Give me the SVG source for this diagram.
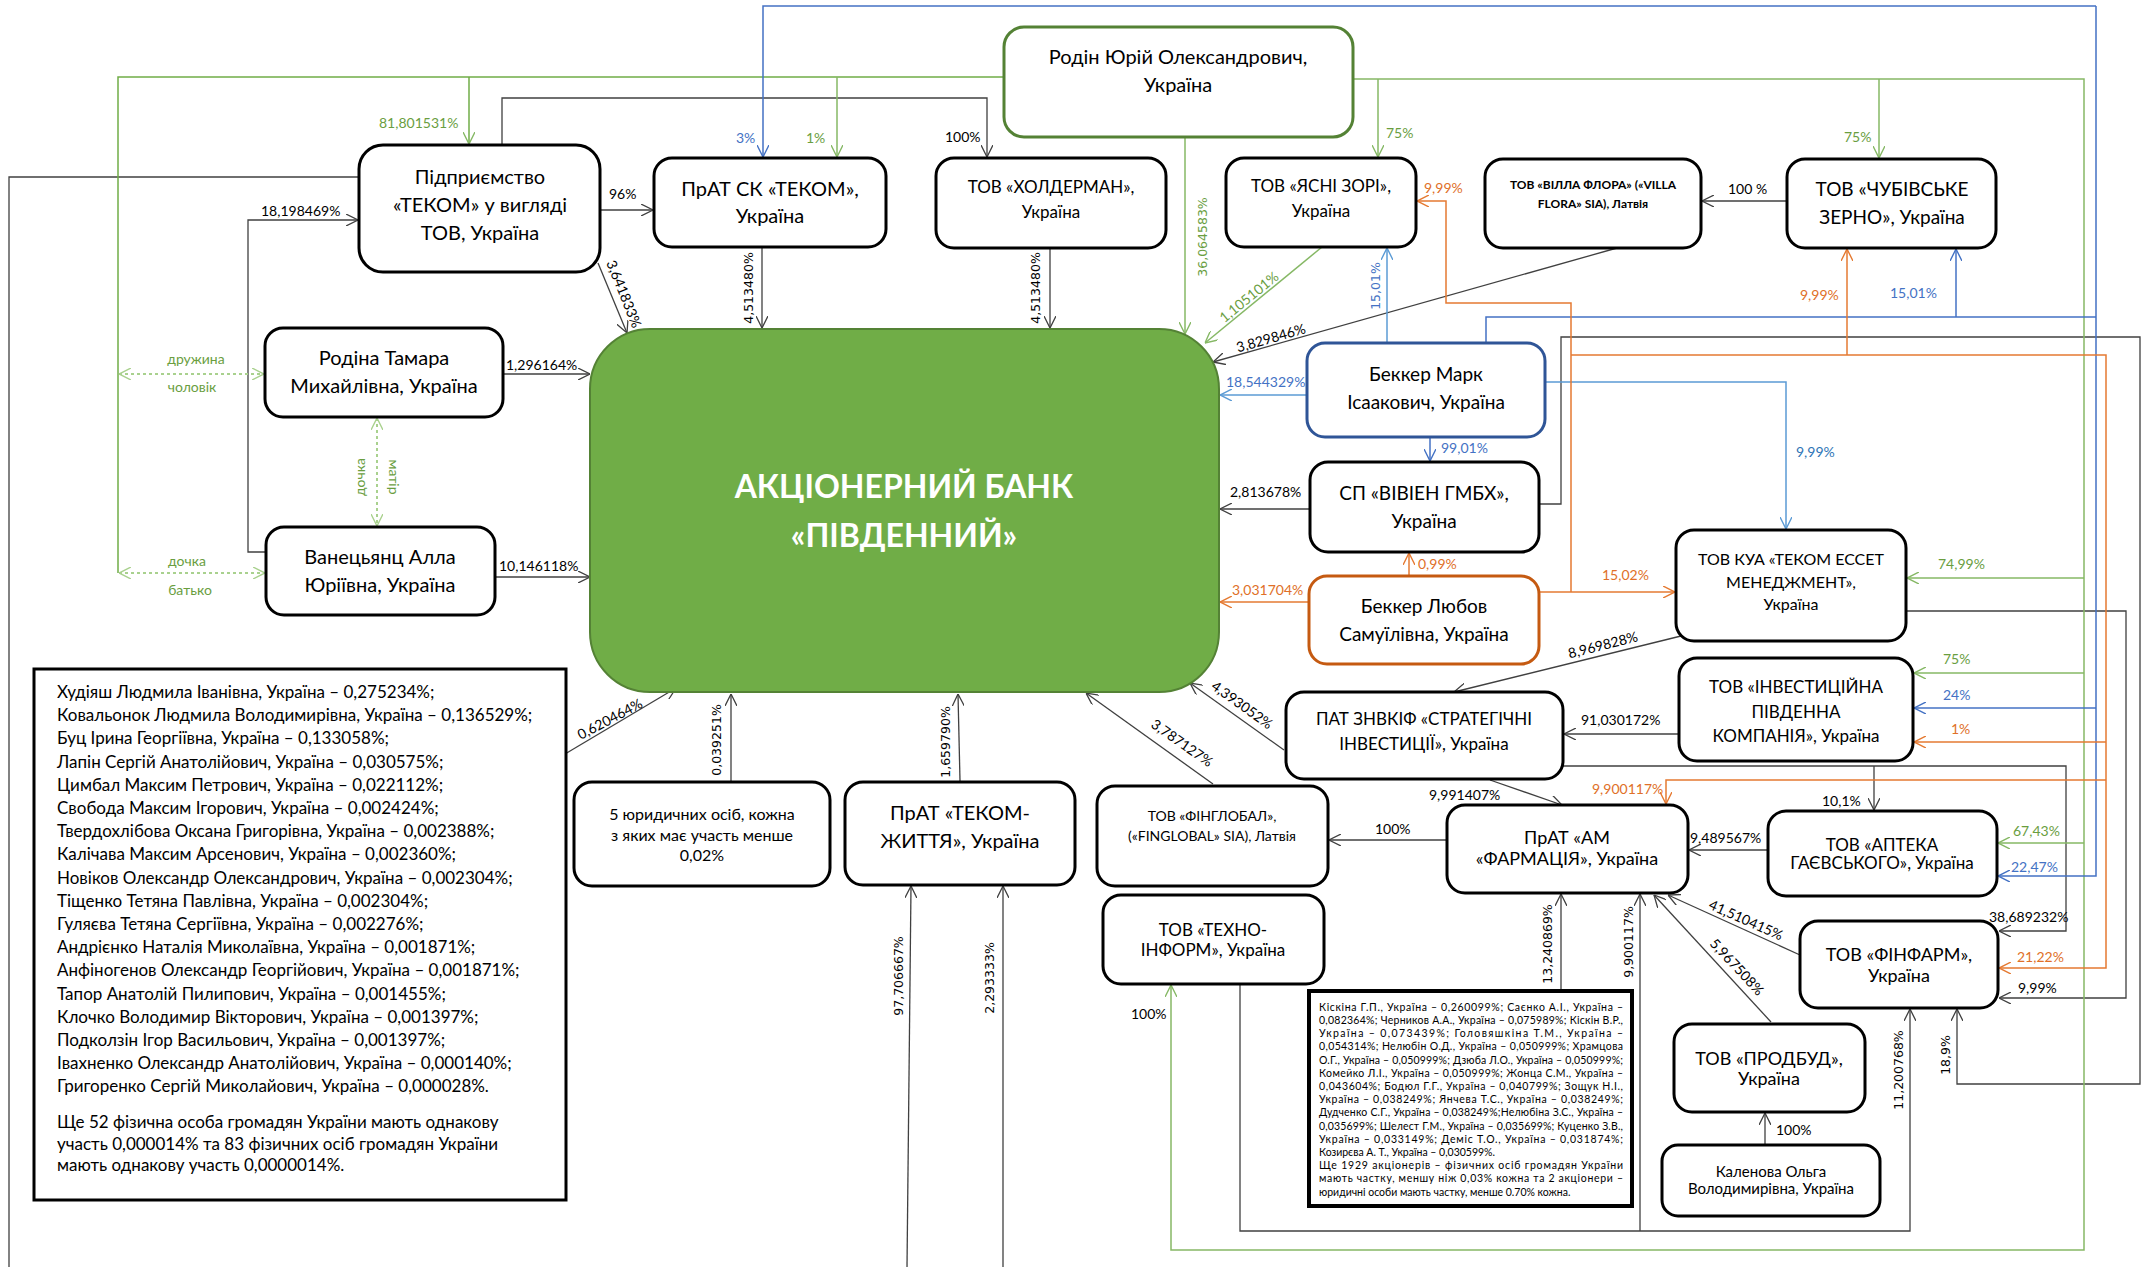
<svg xmlns="http://www.w3.org/2000/svg" width="2147" height="1267" viewBox="0 0 2147 1267">
<style>
.bg{fill:#fff}
.n rect{fill:#fff;stroke:#000;stroke-width:3}
.t{font-family:Lato,"Liberation Sans",sans-serif;text-anchor:middle;fill:#000}
.c{fill:none;stroke:#404040;stroke-width:1.3}
.cg{fill:none;stroke:#86B865;stroke-width:1.5}
.cgd{fill:none;stroke:#70AD47;stroke-width:1.5}
.cb{fill:none;stroke:#4472C4;stroke-width:1.5}
.clb{fill:none;stroke:#5B9BD5;stroke-width:1.5}
.co{fill:none;stroke:#E57A32;stroke-width:1.5}
.dot{fill:none;stroke:#A9D18E;stroke-width:2;stroke-dasharray:3 3}
.lb{font-family:Lato,"Liberation Sans",sans-serif;font-size:14px;fill:#000}
.lv{font-family:"DejaVu Sans",sans-serif;font-size:12.5px;fill:#000}
.gl{fill:#6A9E3F}
.bl{fill:#4472C4}
.lbl{fill:#2E75B6}
.ol{fill:#E07028}
.rel{font-family:Lato,"Liberation Sans",sans-serif;font-size:14px;fill:#6A9E3F;text-anchor:middle}
.tx{font-family:Lato,"Liberation Sans",sans-serif;font-size:17px;fill:#000}
.sx{font-family:Lato,"Liberation Sans",sans-serif;font-size:10.5px;fill:#000}
</style>
<defs>
<marker id="ak" viewBox="0 0 12 12" refX="12" refY="6" markerWidth="12" markerHeight="12" markerUnits="userSpaceOnUse" orient="auto"><path d="M0,0 L12,6 L0,12" fill="none" stroke="#404040" stroke-width="1.3"/></marker>
<marker id="ag" viewBox="0 0 12 12" refX="12" refY="6" markerWidth="12" markerHeight="12" markerUnits="userSpaceOnUse" orient="auto"><path d="M0,0 L12,6 L0,12" fill="none" stroke="#86B865" stroke-width="1.4"/></marker>
<marker id="ab" viewBox="0 0 12 12" refX="12" refY="6" markerWidth="12" markerHeight="12" markerUnits="userSpaceOnUse" orient="auto"><path d="M0,0 L12,6 L0,12" fill="none" stroke="#4472C4" stroke-width="1.4"/></marker>
<marker id="alb" viewBox="0 0 12 12" refX="12" refY="6" markerWidth="12" markerHeight="12" markerUnits="userSpaceOnUse" orient="auto"><path d="M0,0 L12,6 L0,12" fill="none" stroke="#5B9BD5" stroke-width="1.4"/></marker>
<marker id="ao" viewBox="0 0 12 12" refX="12" refY="6" markerWidth="12" markerHeight="12" markerUnits="userSpaceOnUse" orient="auto"><path d="M0,0 L12,6 L0,12" fill="none" stroke="#E57A32" stroke-width="1.4"/></marker>
<marker id="ad" viewBox="0 0 12 12" refX="12" refY="6" markerWidth="12" markerHeight="12" markerUnits="userSpaceOnUse" orient="auto-start-reverse"><path d="M0,0 L12,6 L0,12" fill="none" stroke="#A9D18E" stroke-width="1.4"/></marker>
</defs>
<rect class="bg" x="0" y="0" width="2147" height="1267"/>

<g id="connectors">
<!-- black -->
<path class="c" d="M600,210 H653" marker-end="url(#ak)"/>
<path class="c" d="M502,145 V98 H987 V157" marker-end="url(#ak)"/>
<path class="c" d="M598,263 L627,333" marker-end="url(#ak)"/>
<path class="c" d="M359,177 H9 V1267"/>
<path class="c" d="M266,552 H248 V220 H358" marker-end="url(#ak)"/>
<path class="c" d="M503,374 H590" marker-end="url(#ak)"/>
<path class="c" d="M495,577 H590" marker-end="url(#ak)"/>
<path class="c" d="M762,247 V328" marker-end="url(#ak)"/>
<path class="c" d="M1050,248 V328" marker-end="url(#ak)"/>
<path class="c" d="M1617,248 L1213,362" marker-end="url(#ak)"/>
<path class="c" d="M1787,201 H1702" marker-end="url(#ak)"/>
<path class="c" d="M1310,509 H1220" marker-end="url(#ak)"/>
<path class="c" d="M1539,504 H1561 V337 H2140 V1084 H1957 V1009" marker-end="url(#ak)"/>
<path class="c" d="M1906,611 H2126 V998 H1999" marker-end="url(#ak)"/>
<path class="c" d="M1681,636 L1454,692" marker-end="url(#ak)"/>
<path class="c" d="M1679,734 H1564" marker-end="url(#ak)"/>
<path class="c" d="M1284,750 L1190,683" marker-end="url(#ak)"/>
<path class="c" d="M1563,766 H2066 V931 H1999" marker-end="url(#ak)"/>
<path class="c" d="M1874,766 V810" marker-end="url(#ak)"/>
<path class="c" d="M1490,780 L1562,805" marker-end="url(#ak)"/>
<path class="c" d="M1447,840 H1329" marker-end="url(#ak)"/>
<path class="c" d="M1213,784 L1086,693" marker-end="url(#ak)"/>
<path class="c" d="M1768,850 H1689" marker-end="url(#ak)"/>
<path class="c" d="M1800,955 L1668,895" marker-end="url(#ak)"/>
<path class="c" d="M1771,1022 L1654,895" marker-end="url(#ak)"/>
<path class="c" d="M1561,990 V894" marker-end="url(#ak)"/>
<path class="c" d="M1240,984 V1231 H1910 V1009" marker-end="url(#ak)"/>
<path class="c" d="M1640,1231 V894" marker-end="url(#ak)"/>
<path class="c" d="M1765,1145 V1113" marker-end="url(#ak)"/>
<path class="c" d="M731,781 V694" marker-end="url(#ak)"/>
<path class="c" d="M960,781 L958,694" marker-end="url(#ak)"/>
<path class="c" d="M907,1267 L911,886" marker-end="url(#ak)"/>
<path class="c" d="M1003,1267 V886" marker-end="url(#ak)"/>
<path class="c" d="M565,754 L676,688" marker-end="url(#ak)"/>
<!-- green -->
<path class="cgd" d="M1004,77 H118 V573"/>
<path class="cgd" d="M469,77 V144" marker-end="url(#ag)"/>
<path class="cg" d="M837,77 V157" marker-end="url(#ag)"/>
<path class="cg" d="M1353,79 H2084 V1250 H1171 V985" marker-end="url(#ag)"/>
<path class="cg" d="M1378,79 V157" marker-end="url(#ag)"/>
<path class="cg" d="M1879,79 V158" marker-end="url(#ag)"/>
<path class="cg" d="M2084,578 H1907" marker-end="url(#ag)"/>
<path class="cg" d="M2084,673 H1914" marker-end="url(#ag)"/>
<path class="cg" d="M2084,843 H1998" marker-end="url(#ag)"/>
<path class="cg" d="M1185,137 V334" marker-end="url(#ag)"/>
<path class="cg" d="M1322,247 L1205,343" marker-end="url(#ag)"/>
<path class="dot" d="M119,374 H264" marker-start="url(#ad)" marker-end="url(#ad)"/>
<path class="dot" d="M119,573 H265" marker-start="url(#ad)" marker-end="url(#ad)"/>
<path class="dot" d="M377,418 V526" marker-start="url(#ad)" marker-end="url(#ad)"/>
<!-- blue -->
<path class="cb" d="M1486,343 V317 H2096"/>
<path class="cb" d="M2096,6 V876 H1998" marker-end="url(#ab)"/>
<path class="cb" d="M2096,6 H763 V157" marker-end="url(#ab)"/>
<path class="cb" d="M1956,317 V249" marker-end="url(#ab)"/>
<path class="cb" d="M2096,708 H1914" marker-end="url(#ab)"/>
<path class="clb" d="M1387,343 V248" marker-end="url(#alb)"/>
<path class="clb" d="M1307,395 H1220" marker-end="url(#alb)"/>
<path class="cb" d="M1430,437 V461" marker-end="url(#ab)"/>
<path class="clb" d="M1545,382 H1786 V529" marker-end="url(#alb)"/>
<!-- orange -->
<path class="co" d="M1539,592 H1675" marker-end="url(#ao)"/>
<path class="co" d="M1571,592 V303 H1446 V201 H1417" marker-end="url(#ao)"/>
<path class="co" d="M1571,355 H2106 V968 H1999" marker-end="url(#ao)"/>
<path class="co" d="M1847,355 V249" marker-end="url(#ao)"/>
<path class="co" d="M2106,742 H1914" marker-end="url(#ao)"/>
<path class="co" d="M2106,780 H1666 V804" marker-end="url(#ao)"/>
<path class="co" d="M1309,602 H1220" marker-end="url(#ao)"/>
<path class="co" d="M1409,576 V553" marker-end="url(#ao)"/>

<!-- labels -->
<text class="lb" x="609" y="199">96%</text>
<text class="lb" x="945" y="142">100%</text>
<text class="lb" x="261" y="216">18,198469%</text>
<text class="lb" x="506" y="370">1,296164%</text>
<text class="lb" x="499" y="571">10,146118%</text>
<text class="lb" x="1728" y="194">100 %</text>
<text class="lb" x="1230" y="497">2,813678%</text>
<text class="lb" x="1581" y="725">91,030172%</text>
<text class="lb" x="1429" y="800">9,991407%</text>
<text class="lb" x="1375" y="834">100%</text>
<text class="lb" x="1690" y="843">9,489567%</text>
<text class="lb" x="1822" y="806">10,1%</text>
<text class="lb" x="1989" y="922">38,689232%</text>
<text class="lb" x="2018" y="993">9,99%</text>
<text class="lb" x="1776" y="1135">100%</text>
<text class="lb" x="1131" y="1019">100%</text>
<text class="lb gl" x="379" y="128">81,801531%</text>
<text class="lb gl" x="806" y="143">1%</text>
<text class="lb gl" x="1386" y="138">75%</text>
<text class="lb gl" x="1844" y="142">75%</text>
<text class="lb gl" x="1938" y="569">74,99%</text>
<text class="lb gl" x="1943" y="664">75%</text>
<text class="lb gl" x="2013" y="836">67,43%</text>
<text class="lb bl" x="736" y="143">3%</text>
<text class="lb bl" x="1890" y="298">15,01%</text>
<text class="lb bl" x="1226" y="387">18,544329%</text>
<text class="lb bl" x="1441" y="453">99,01%</text>
<text class="lb lbl" x="1796" y="457">9,99%</text>
<text class="lb bl" x="1943" y="700">24%</text>
<text class="lb bl" x="2011" y="872">22,47%</text>
<text class="lb ol" x="1424" y="193">9,99%</text>
<text class="lb ol" x="1800" y="300">9,99%</text>
<text class="lb ol" x="1418" y="569">0,99%</text>
<text class="lb ol" x="1232" y="595">3,031704%</text>
<text class="lb ol" x="1602" y="580">15,02%</text>
<text class="lb ol" x="1951" y="734">1%</text>
<text class="lb ol" x="1592" y="794">9,900117%</text>
<text class="lb ol" x="2017" y="962">21,22%</text>
<text class="rel" x="196" y="364">дружина</text>
<text class="rel" x="192" y="392">чоловік</text>
<text class="rel" x="187" y="566">дочка</text>
<text class="rel" x="190" y="595">батько</text>
<text class="rel" transform="translate(360,477) rotate(-90)" dy="0.35em">дочка</text>
<text class="rel" transform="translate(394,477) rotate(90)" dy="0.35em">матір</text>
<!-- vertical labels -->
<text class="lv" text-anchor="middle" dy="0.35em" transform="translate(749,288) rotate(-90)">4,513480%</text>
<text class="lv" text-anchor="middle" dy="0.35em" transform="translate(1036,288) rotate(-90)">4,513480%</text>
<text class="lv gl" text-anchor="middle" dy="0.35em" transform="translate(1203,237) rotate(-90)">36,064583%</text>
<text class="lv bl" text-anchor="middle" dy="0.35em" transform="translate(1376,286) rotate(-90)">15,01%</text>
<text class="lv" text-anchor="middle" dy="0.35em" transform="translate(717,740) rotate(-90)">0,039251%</text>
<text class="lv" text-anchor="middle" dy="0.35em" transform="translate(946,742) rotate(-90)">1,659790%</text>
<text class="lv" text-anchor="middle" dy="0.35em" transform="translate(899,976) rotate(-90)">97,706667%</text>
<text class="lv" text-anchor="middle" dy="0.35em" transform="translate(990,978) rotate(-90)">2,293333%</text>
<text class="lv" text-anchor="middle" dy="0.35em" transform="translate(1548,944) rotate(-90)">13,240869%</text>
<text class="lv" text-anchor="middle" dy="0.35em" transform="translate(1629,942) rotate(-90)">9,900117%</text>
<text class="lv" text-anchor="middle" dy="0.35em" transform="translate(1899,1070) rotate(-90)">11,200768%</text>
<text class="lv" text-anchor="middle" dy="0.35em" transform="translate(1946,1055) rotate(-90)">18,9%</text>
<!-- diagonal labels -->
<text class="lb" text-anchor="middle" dy="0.35em" transform="translate(624,294) rotate(68)">3,641833%</text>
<text class="lb gl" text-anchor="middle" dy="0.35em" transform="translate(1249,297) rotate(-39)">1,105101%</text>
<text class="lb" text-anchor="middle" dy="0.35em" transform="translate(1271,338) rotate(-16)">3,829846%</text>
<text class="lb" text-anchor="middle" dy="0.35em" transform="translate(1603,645) rotate(-14)">8,969828%</text>
<text class="lb" text-anchor="middle" dy="0.35em" transform="translate(1242,705) rotate(35.5)">4,393052%</text>
<text class="lb" text-anchor="middle" dy="0.35em" transform="translate(1182,743) rotate(35)">3,787127%</text>
<text class="lb" text-anchor="middle" dy="0.35em" transform="translate(610,719) rotate(-28)">0,620464%</text>
<text class="lb" text-anchor="middle" dy="0.35em" transform="translate(1746,920) rotate(24)">41,510415%</text>
<text class="lb" text-anchor="middle" dy="0.35em" transform="translate(1737,967) rotate(47)">5,967508%</text>
</g>

<g id="bank">
<rect x="590" y="329" width="629" height="363" rx="60" fill="#70AD47" stroke="#548235" stroke-width="2"/>
<text class="t" x="904" y="498" font-size="32" font-weight="bold" style="fill:#fff">АКЦІОНЕРНИЙ БАНК</text>
<text class="t" x="904" y="547" font-size="32" font-weight="bold" style="fill:#fff">«ПІВДЕННИЙ»</text>
</g>
<g id="rodin" class="n"><rect x="1004" y="27" width="349" height="110" rx="20" style="stroke:#548235"/>
<text class="t" x="1178" y="64" font-size="20">Родін Юрій Олександрович,</text><text class="t" x="1178" y="92" font-size="20">Україна</text></g>
<g id="tekom" class="n"><rect x="359" y="145" width="241" height="127" rx="24"/>
<text class="t" x="480" y="184" font-size="20">Підприємство</text><text class="t" x="480" y="212" font-size="20">«ТЕКОМ» у вигляді</text><text class="t" x="480" y="240" font-size="20">ТОВ, Україна</text></g>
<g id="prat-sk" class="n"><rect x="654" y="158" width="232" height="89" rx="18"/>
<text class="t" x="770" y="196" font-size="20">ПрАТ СК «ТЕКОМ»,</text><text class="t" x="770" y="223" font-size="20">Україна</text></g>
<g id="holderman" class="n"><rect x="936" y="158" width="230" height="90" rx="18"/>
<text class="t" x="1051" y="193" font-size="17">ТОВ «ХОЛДЕРМАН»,</text><text class="t" x="1051" y="218" font-size="17">Україна</text></g>
<g id="yasni" class="n"><rect x="1226" y="158" width="190" height="89" rx="18"/>
<text class="t" x="1321" y="192" font-size="17">ТОВ «ЯСНІ ЗОРІ»,</text><text class="t" x="1321" y="217" font-size="17">Україна</text></g>
<g id="villa" class="n"><rect x="1485" y="159" width="216" height="89" rx="18"/>
<text class="t" x="1593" y="189" font-size="12" font-weight="bold">ТОВ «ВІЛЛА ФЛОРА» («VILLA</text><text class="t" x="1593" y="208" font-size="12" font-weight="bold">FLORA» SIA), Латвія</text></g>
<g id="chubivske" class="n"><rect x="1787" y="159" width="209" height="89" rx="18"/>
<text class="t" x="1892" y="196" font-size="19">ТОВ «ЧУБІВСЬКЕ</text><text class="t" x="1892" y="224" font-size="19">ЗЕРНО», Україна</text></g>
<g id="rodina" class="n"><rect x="265" y="328" width="238" height="89" rx="18"/>
<text class="t" x="384" y="365" font-size="20">Родіна Тамара</text><text class="t" x="384" y="393" font-size="20">Михайлівна, Україна</text></g>
<g id="vanetsyants" class="n"><rect x="266" y="527" width="229" height="88" rx="18"/>
<text class="t" x="380" y="564" font-size="20">Ванецьянц Алла</text><text class="t" x="380" y="592" font-size="20">Юріївна, Україна</text></g>
<g id="bekker-mark" class="n"><rect x="1307" y="343" width="238" height="94" rx="18" style="stroke:#2F5597"/>
<text class="t" x="1426" y="381" font-size="19">Беккер Марк</text><text class="t" x="1426" y="409" font-size="19">Ісаакович, Україна</text></g>
<g id="vivien" class="n"><rect x="1310" y="462" width="229" height="90" rx="18"/>
<text class="t" x="1424" y="500" font-size="19">СП «ВІВІЕН ГМБХ»,</text><text class="t" x="1424" y="528" font-size="19">Україна</text></g>
<g id="bekker-lyubov" class="n"><rect x="1309" y="576" width="230" height="88" rx="18" style="stroke:#C55A11"/>
<text class="t" x="1424" y="613" font-size="19">Беккер Любов</text><text class="t" x="1424" y="641" font-size="19">Самуїлівна, Україна</text></g>
<g id="tekom-asset" class="n"><rect x="1676" y="530" width="230" height="111" rx="18"/>
<text class="t" x="1791" y="565" font-size="16">ТОВ КУА «ТЕКОМ ЕССЕТ</text><text class="t" x="1791" y="588" font-size="16">МЕНЕДЖМЕНТ»,</text><text class="t" x="1791" y="610" font-size="16">Україна</text></g>
<g id="invest" class="n"><rect x="1679" y="658" width="234" height="103" rx="18"/>
<text class="t" x="1796" y="693" font-size="17">ТОВ «ІНВЕСТИЦІЙНА</text><text class="t" x="1796" y="718" font-size="17">ПІВДЕННА</text><text class="t" x="1796" y="742" font-size="17">КОМПАНІЯ», Україна</text></g>
<g id="znvkif" class="n"><rect x="1286" y="692" width="277" height="87" rx="18"/>
<text class="t" x="1424" y="725" font-size="17">ПАТ ЗНВКІФ «СТРАТЕГІЧНІ</text><text class="t" x="1424" y="750" font-size="17">ІНВЕСТИЦІЇ», Україна</text></g>
<g id="finglobal" class="n"><rect x="1097" y="786" width="231" height="100" rx="18"/>
<text class="t" x="1212" y="821" font-size="14">ТОВ «ФІНГЛОБАЛ»,</text><text class="t" x="1212" y="841" font-size="14">(«FINGLOBAL» SIA), Латвія</text></g>
<g id="tekhno" class="n"><rect x="1103" y="895" width="221" height="89" rx="18"/>
<text class="t" x="1213" y="936" font-size="17">ТОВ «ТЕХНО-</text><text class="t" x="1213" y="956" font-size="17">ІНФОРМ», Україна</text></g>
<g id="five-legal" class="n"><rect x="574" y="782" width="256" height="104" rx="18"/>
<text class="t" x="702" y="820" font-size="16">5 юридичних осіб, кожна</text><text class="t" x="702" y="841" font-size="16">з яких має участь менше</text><text class="t" x="702" y="861" font-size="16">0,02%</text></g>
<g id="tekom-zhyttia" class="n"><rect x="845" y="782" width="230" height="103" rx="18"/>
<text class="t" x="960" y="820" font-size="20">ПрАТ «ТЕКОМ-</text><text class="t" x="960" y="848" font-size="20">ЖИТТЯ», Україна</text></g>
<g id="farmatsiya" class="n"><rect x="1447" y="805" width="241" height="88" rx="18"/>
<text class="t" x="1567" y="844" font-size="18">ПрАТ «АМ</text><text class="t" x="1567" y="865" font-size="18">«ФАРМАЦІЯ», Україна</text></g>
<g id="apteka" class="n"><rect x="1768" y="811" width="229" height="85" rx="18"/>
<text class="t" x="1882" y="851" font-size="17">ТОВ «АПТЕКА</text><text class="t" x="1882" y="869" font-size="17">ГАЄВСЬКОГО», Україна</text></g>
<g id="finfarm" class="n"><rect x="1800" y="921" width="198" height="87" rx="18"/>
<text class="t" x="1899" y="961" font-size="18">ТОВ «ФІНФАРМ»,</text><text class="t" x="1899" y="982" font-size="18">Україна</text></g>
<g id="prodbud" class="n"><rect x="1674" y="1024" width="191" height="88" rx="18"/>
<text class="t" x="1769" y="1065" font-size="18">ТОВ «ПРОДБУД»,</text><text class="t" x="1769" y="1085" font-size="18">Україна</text></g>
<g id="kalenova" class="n"><rect x="1662" y="1145" width="218" height="71" rx="16"/>
<text class="t" x="1771" y="1177" font-size="15">Каленова Ольга</text><text class="t" x="1771" y="1194" font-size="15">Володимирівна, Україна</text></g>

<g id="shareholders-list">
<rect x="34" y="669" width="532" height="531" fill="#fff" stroke="#000" stroke-width="3"/>
<text class="tx" x="57" y="698">Худіяш Людмила Іванівна, Україна – 0,275234%;</text>
<text class="tx" x="57" y="721">Ковальонок Людмила Володимирівна, Україна – 0,136529%;</text>
<text class="tx" x="57" y="744">Буц Ірина Георгіївна, Україна – 0,133058%;</text>
<text class="tx" x="57" y="768">Лапін Сергій Анатолійович, Україна – 0,030575%;</text>
<text class="tx" x="57" y="791">Цимбал Максим Петрович, Україна – 0,022112%;</text>
<text class="tx" x="57" y="814">Свобода Максим Ігорович, Україна – 0,002424%;</text>
<text class="tx" x="57" y="837">Твердохлібова Оксана Григорівна, Україна – 0,002388%;</text>
<text class="tx" x="57" y="860">Калічава Максим Арсенович, Україна – 0,002360%;</text>
<text class="tx" x="57" y="884">Новіков Олександр Олександрович, Україна – 0,002304%;</text>
<text class="tx" x="57" y="907">Тіщенко Тетяна Павлівна, Україна – 0,002304%;</text>
<text class="tx" x="57" y="930">Гуляєва Тетяна Сергіївна, Україна – 0,002276%;</text>
<text class="tx" x="57" y="953">Андрієнко Наталія Миколаївна, Україна – 0,001871%;</text>
<text class="tx" x="57" y="976">Анфіногенов Олександр Георгійович, Україна – 0,001871%;</text>
<text class="tx" x="57" y="1000">Тапор Анатолій Пилипович, Україна – 0,001455%;</text>
<text class="tx" x="57" y="1023">Клочко Володимир Вікторович, Україна – 0,001397%;</text>
<text class="tx" x="57" y="1046">Подколзін Ігор Васильович, Україна – 0,001397%;</text>
<text class="tx" x="57" y="1069">Івахненко Олександр Анатолійович, Україна – 0,000140%;</text>
<text class="tx" x="57" y="1092">Григоренко Сергій Миколайович, Україна – 0,000028%.</text>
<text class="tx" x="57" y="1128">Ще 52 фізична особа громадян України мають однакову</text>
<text class="tx" x="57" y="1150">участь 0,000014% та 83 фізичних осіб громадян України</text>
<text class="tx" x="57" y="1171">мають однакову участь 0,0000014%.</text>
</g>

<g id="shareholders-small">
<rect x="1309" y="991" width="323" height="215" fill="#fff" stroke="#000" stroke-width="4"/>
<text class="sx" x="1319" y="1011" textLength="304" lengthAdjust="spacing">Кіскіна Г.П., Україна – 0,260099%; Саєнко А.І., Україна –</text>
<text class="sx" x="1319" y="1024" textLength="304" lengthAdjust="spacing">0,082364%; Черников А.А., Україна – 0,075989%; Кіскін В.Р.,</text>
<text class="sx" x="1319" y="1037" textLength="304" lengthAdjust="spacing">Україна – 0,073439%; Головяшкіна Т.М., Україна –</text>
<text class="sx" x="1319" y="1050" textLength="304" lengthAdjust="spacing">0,054314%; Нелюбін О.Д., Україна – 0,050999%; Храмцова</text>
<text class="sx" x="1319" y="1064" textLength="304" lengthAdjust="spacing">О.Г., Україна – 0,050999%; Дзюба Л.О., Україна – 0,050999%;</text>
<text class="sx" x="1319" y="1077" textLength="304" lengthAdjust="spacing">Комейко Л.І., Україна – 0,050999%; Жонца С.М., Україна –</text>
<text class="sx" x="1319" y="1090" textLength="304" lengthAdjust="spacing">0,043604%; Бодюл Г.Г., Україна – 0,040799%; Зощук Н.І.,</text>
<text class="sx" x="1319" y="1103" textLength="304" lengthAdjust="spacing">Україна – 0,038249%; Янчева Т.С., Україна – 0,038249%;</text>
<text class="sx" x="1319" y="1116" textLength="304" lengthAdjust="spacing">Дудченко С.Г., Україна – 0,038249%;Нелюбіна З.С., Україна –</text>
<text class="sx" x="1319" y="1130" textLength="304" lengthAdjust="spacing">0,035699%; Шелест Г.М., Україна – 0,035699%; Куценко З.В.,</text>
<text class="sx" x="1319" y="1143" textLength="304" lengthAdjust="spacing">Україна – 0,033149%; Деміс Т.О., Україна – 0,031874%;</text>
<text class="sx" x="1319" y="1156">Козирєва А. Т., Україна – 0,030599%.</text>
<text class="sx" x="1319" y="1169" textLength="304" lengthAdjust="spacing">Ще 1929 акціонерів – фізичних осіб громадян України</text>
<text class="sx" x="1319" y="1182" textLength="304" lengthAdjust="spacing">мають частку, меншу ніж 0,03% кожна та 2 акціонери –</text>
<text class="sx" x="1319" y="1196">юридичні особи мають частку, менше 0.70% кожна.</text>
</g>
</svg>
